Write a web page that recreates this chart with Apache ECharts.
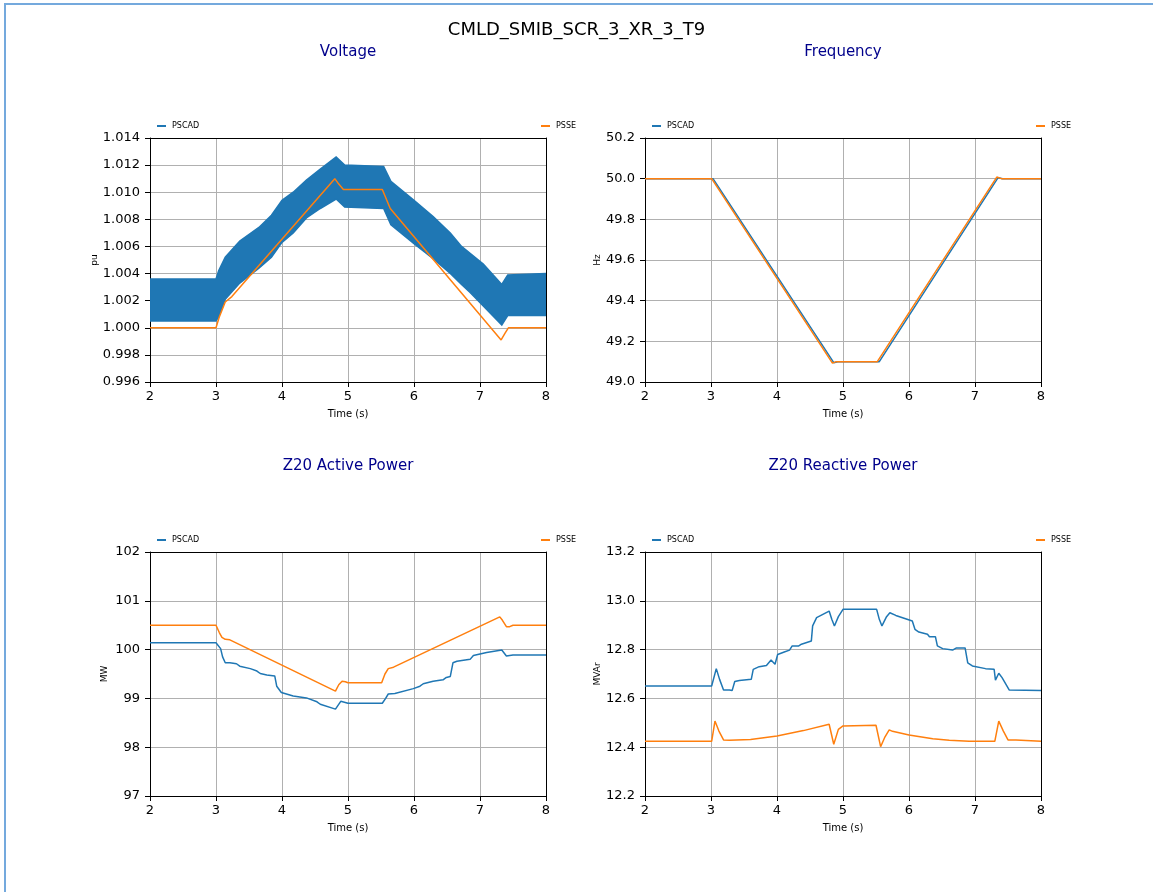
<!DOCTYPE html>
<html>
<head>
<meta charset="utf-8">
<script src="https://cdn.jsdelivr.net/npm/echarts@6/dist/echarts.min.js"></script>
<style>
  html, body { margin: 0; padding: 0; background: #fff; overflow: hidden; }
  #chart { width: 1153px; height: 892px; position: absolute; left: 0; top: 0; }
  #frame { position: absolute; left: 4px; top: 3px; width: 1300px; height: 1000px;
           border: 2px solid #74a9dd; pointer-events: none; box-sizing: border-box; }
</style>
</head>
<body>
<div id="chart"></div>
<div id="frame"></div>
<script>
// ---------------- DATA ----------------
const mainTitle = 'CMLD_SMIB_SCR_3_XR_3_T9';
const panelTitles = ['Voltage', 'Frequency', 'Z20 Active Power', 'Z20 Reactive Power'];
const yNames = ['pu', 'Hz', 'MW', 'MVAr'];
const seriesNames = ['PSCAD', 'PSSE'];

// Voltage (pu) - PSCAD oscillation envelope
const vBandT     = [2.0, 3.0, 3.04, 3.14, 3.36, 3.65, 3.84, 4.0, 4.17, 4.37, 4.58, 4.82, 4.95, 5.54, 5.65, 6.0, 6.29, 6.55, 6.72, 6.85, 7.05, 7.33, 7.42, 8.0];
const vPscadUpper = [1.0036, 1.0036, 1.0042, 1.0052, 1.0064, 1.0074, 1.0083, 1.0094, 1.0100, 1.0109, 1.0117, 1.0126, 1.0120, 1.0119, 1.0108, 1.0094, 1.0082, 1.0070, 1.0060, 1.0055, 1.0047, 1.0032, 1.0039, 1.0040];
const vPscadLower = [1.0005, 1.0005, 1.0008, 1.0021, 1.0033, 1.0044, 1.0052, 1.0063, 1.0070, 1.0081, 1.0088, 1.0095, 1.0089, 1.0088, 1.0076, 1.0062, 1.0051, 1.0040, 1.0032, 1.0026, 1.0016, 1.0002, 1.0009, 1.0009];
// Voltage - PSSE
const vPsseT = [2, 3.0, 3.05, 3.14, 3.24, 4.80, 4.86, 4.93, 5.52, 5.64, 7.32, 7.38, 7.43, 8];
const vPsse  = [1.0, 1.0, 1.0008, 1.0019, 1.0023, 1.0110, 1.0106, 1.0102, 1.0102, 1.0088, 0.9991, 0.9996, 1.0, 1.0];

// Frequency (Hz)
const fPscadT = [2, 3.03, 4.86, 4.92, 5.55, 7.35, 7.42, 8];
const fPscad  = [50, 50, 49.095, 49.1, 49.1, 50.005, 50.0, 50];
const fPsseT  = [2, 3.01, 4.84, 4.9, 5.52, 7.33, 7.4, 8];
const fPsse   = [50, 50, 49.093, 49.1, 49.1, 50.008, 50.0, 50];

// Z20 Active Power (MW)
const pPscadT = [2, 3.0, 3.07, 3.1, 3.14, 3.21, 3.31, 3.36, 3.52, 3.62, 3.67, 3.77, 3.89, 3.92, 3.99, 4.17, 4.37, 4.53, 4.58, 4.81, 4.89, 5.0, 5.52, 5.57, 5.61, 5.71, 5.99, 6.09, 6.14, 6.29, 6.44, 6.49, 6.55, 6.59, 6.65, 6.85, 6.9, 7.1, 7.33, 7.4, 7.5, 8];
const pPscad  = [100.14, 100.14, 100.02, 99.85, 99.73, 99.73, 99.71, 99.66, 99.61, 99.56, 99.51, 99.48, 99.46, 99.25, 99.12, 99.05, 99.01, 98.93, 98.88, 98.78, 98.94, 98.9, 98.9, 99.0, 99.09, 99.1, 99.2, 99.25, 99.3, 99.35, 99.38, 99.43, 99.45, 99.73, 99.76, 99.8, 99.88, 99.94, 99.99, 99.87, 99.89, 99.89];
const pPsseT  = [2, 3.0, 3.05, 3.09, 3.14, 3.21, 4.81, 4.86, 4.91, 4.96, 5.0, 5.51, 5.56, 5.61, 5.69, 7.30, 7.34, 7.40, 7.45, 7.5, 8];
const pPsse   = [100.5, 100.5, 100.35, 100.25, 100.21, 100.2, 99.15, 99.28, 99.35, 99.34, 99.32, 99.32, 99.5, 99.61, 99.64, 100.67, 100.6, 100.47, 100.47, 100.5, 100.5];

// Z20 Reactive Power (MVAr)
const qPscadT = [2, 3.01, 3.08, 3.13, 3.19, 3.28, 3.32, 3.36, 3.43, 3.61, 3.64, 3.73, 3.84, 3.91, 3.97, 4.01, 4.11, 4.19, 4.23, 4.33, 4.37, 4.52, 4.54, 4.6, 4.79, 4.83, 4.87, 4.93, 5.0, 5.51, 5.55, 5.59, 5.66, 5.71, 5.8, 6.05, 6.09, 6.15, 6.28, 6.31, 6.4, 6.43, 6.51, 6.66, 6.72, 6.85, 6.89, 6.96, 7.16, 7.29, 7.31, 7.36, 7.41, 7.52, 8];
const qPscad  = [12.651, 12.651, 12.722, 12.678, 12.634, 12.634, 12.632, 12.669, 12.673, 12.678, 12.719, 12.73, 12.735, 12.757, 12.74, 12.78, 12.79, 12.798, 12.815, 12.815, 12.822, 12.835, 12.897, 12.931, 12.958, 12.924, 12.897, 12.935, 12.965, 12.965, 12.924, 12.897, 12.935, 12.951, 12.94, 12.917, 12.883, 12.872, 12.863, 12.853, 12.853, 12.815, 12.804, 12.798, 12.807, 12.807, 12.746, 12.733, 12.722, 12.719, 12.675, 12.703, 12.685, 12.634, 12.632];
const qPsseT  = [2, 3.01, 3.06, 3.12, 3.19, 3.28, 3.6, 4.0, 4.4, 4.79, 4.86, 4.93, 5.0, 5.5, 5.57, 5.63, 5.7, 5.75, 6.0, 6.36, 6.61, 6.91, 7.3, 7.36, 7.43, 7.5, 7.62, 8];
const qPsse   = [12.424, 12.424, 12.507, 12.466, 12.43, 12.428, 12.432, 12.446, 12.468, 12.494, 12.412, 12.473, 12.487, 12.49, 12.402, 12.439, 12.471, 12.465, 12.45, 12.435, 12.428, 12.424, 12.424, 12.507, 12.466, 12.43, 12.43, 12.424];

// Axis ranges / ticks
const xTicks = [2, 3, 4, 5, 6, 7, 8];
const yRanges = [
  { min: 0.996, max: 1.014, interval: 0.002, dec: 3 },
  { min: 49.0, max: 50.2, interval: 0.2, dec: 1 },
  { min: 97, max: 102, interval: 1, dec: 0 },
  { min: 12.2, max: 13.2, interval: 0.2, dec: 1 }
];

// ---------------- LAYOUT ----------------
const BLUE = '#1f77b4', ORANGE = '#ff7f0e';
const FONT = 'DejaVu Sans';
const grids = [
  { left: 150, top: 138, width: 396, height: 244 },
  { left: 645, top: 138, width: 396, height: 244 },
  { left: 150, top: 552, width: 396, height: 244 },
  { left: 645, top: 552, width: 396, height: 244 }
];
const yNameGaps = [51, 43, 41, 43];

const zip = (t, v) => t.map((x, i) => [x, v[i]]);

// band polygon data: one row per time sample [t, lower, upper]
const bandRows = vBandT.map((t, i) => [t, vPscadLower[i], vPscadUpper[i]]);

const frameAxis = {
  axisLine: { show: true, onZero: false, lineStyle: { color: '#000', width: 1 } },
  axisTick: { show: false }, axisLabel: { show: false }, splitLine: { show: false }
};

const option = {
  animation: false,
  textStyle: { fontFamily: FONT },
  grid: grids.map(g => Object.assign({ show: false, containLabel: false }, g)),
  xAxis: grids.map((g, i) => ({
    gridIndex: i, type: 'value', min: xTicks[0], max: xTicks[xTicks.length - 1], interval: 1,
    position: 'bottom',
    name: 'Time (s)', nameLocation: 'middle', nameGap: 27,
    nameTextStyle: { fontSize: 10, color: '#000', fontFamily: FONT },
    axisLine: { show: true, onZero: false, lineStyle: { color: '#000', width: 1 } },
    axisTick: { show: true, inside: false, length: 5, lineStyle: { color: '#000' } },
    axisLabel: { fontSize: 13, color: '#000', margin: 8, fontFamily: FONT },
    splitLine: { show: true, showMinLine: false, showMaxLine: false, lineStyle: { color: '#b0b0b0', width: 1 } }
  })).concat(grids.map((g, i) => Object.assign({
    gridIndex: i, type: 'value', min: xTicks[0], max: xTicks[xTicks.length - 1], position: 'top'
  }, frameAxis))),
  yAxis: grids.map((g, i) => ({
    gridIndex: i, type: 'value', min: yRanges[i].min, max: yRanges[i].max, interval: yRanges[i].interval,
    position: 'left',
    name: yNames[i], nameLocation: 'middle', nameGap: yNameGaps[i], nameRotate: 90,
    nameTextStyle: { fontSize: 9, color: '#000', fontFamily: FONT },
    axisLine: { show: true, onZero: false, lineStyle: { color: '#000', width: 1 } },
    axisTick: { show: true, inside: false, length: 5, lineStyle: { color: '#000' } },
    axisLabel: { fontSize: 13, color: '#000', margin: 10, fontFamily: FONT,
                 formatter: v => Number(v).toFixed(yRanges[i].dec) },
    splitLine: { show: true, showMinLine: false, showMaxLine: false, lineStyle: { color: '#b0b0b0', width: 1 } }
  })).concat(grids.map((g, i) => Object.assign({
    gridIndex: i, type: 'value', min: yRanges[i].min, max: yRanges[i].max, position: 'right'
  }, frameAxis))),
  legend: [
    [157, 122, 'PSCAD'], [541, 122, 'PSSE'],
    [652, 122, 'PSCAD'], [1036, 122, 'PSSE'],
    [157, 536, 'PSCAD'], [541, 536, 'PSSE'],
    [652, 536, 'PSCAD'], [1036, 536, 'PSSE']
  ].map(([l, t, n]) => ({
    left: l, top: t, data: [n], icon: 'rect', itemWidth: 9, itemHeight: 2, itemGap: 4,
    selectedMode: false, padding: 0,
    textStyle: { fontSize: 8, color: '#000', fontFamily: FONT, padding: [0, 0, 0, 1] }
  })),
  graphic: [
    { type: 'text', left: 'center', top: 21, style: { text: mainTitle, font: '18px "DejaVu Sans"', fill: '#000' } },
    { type: 'text', x: 348, y: 52, style: { text: panelTitles[0], font: '15px "DejaVu Sans"', fill: '#00008b', align: 'center', verticalAlign: 'middle' } },
    { type: 'text', x: 843, y: 52, style: { text: panelTitles[1], font: '15px "DejaVu Sans"', fill: '#00008b', align: 'center', verticalAlign: 'middle' } },
    { type: 'text', x: 348, y: 466, style: { text: panelTitles[2], font: '15px "DejaVu Sans"', fill: '#00008b', align: 'center', verticalAlign: 'middle' } },
    { type: 'text', x: 843, y: 466, style: { text: panelTitles[3], font: '15px "DejaVu Sans"', fill: '#00008b', align: 'center', verticalAlign: 'middle' } }
  ],
  series: [
    // Voltage PSCAD band as a polygon between envelopes
    { name: seriesNames[0], type: 'custom', xAxisIndex: 0, yAxisIndex: 0,
      data: [0], itemStyle: { color: BLUE }, clip: true,
      renderItem: (params, api) => {
        const up = bandRows.map(r => api.coord([r[0], r[2]]));
        const lo = bandRows.slice().reverse().map(r => api.coord([r[0], r[1]]));
        return { type: 'polygon', shape: { points: up.concat(lo) },
                 style: { fill: BLUE, stroke: BLUE, lineWidth: 1.5 } };
      } },
    { name: seriesNames[1], type: 'line', xAxisIndex: 0, yAxisIndex: 0, symbol: 'none',
      data: zip(vPsseT, vPsse), lineStyle: { color: ORANGE, width: 1.5 }, itemStyle: { color: ORANGE } },
    // Frequency
    { name: seriesNames[0], type: 'line', xAxisIndex: 1, yAxisIndex: 1, symbol: 'none',
      data: zip(fPscadT, fPscad), lineStyle: { color: BLUE, width: 1.5 }, itemStyle: { color: BLUE } },
    { name: seriesNames[1], type: 'line', xAxisIndex: 1, yAxisIndex: 1, symbol: 'none',
      data: zip(fPsseT, fPsse), lineStyle: { color: ORANGE, width: 1.5 }, itemStyle: { color: ORANGE } },
    // Active power
    { name: seriesNames[0], type: 'line', xAxisIndex: 2, yAxisIndex: 2, symbol: 'none',
      data: zip(pPscadT, pPscad), lineStyle: { color: BLUE, width: 1.5 }, itemStyle: { color: BLUE } },
    { name: seriesNames[1], type: 'line', xAxisIndex: 2, yAxisIndex: 2, symbol: 'none',
      data: zip(pPsseT, pPsse), lineStyle: { color: ORANGE, width: 1.5 }, itemStyle: { color: ORANGE } },
    // Reactive power
    { name: seriesNames[0], type: 'line', xAxisIndex: 3, yAxisIndex: 3, symbol: 'none',
      data: zip(qPscadT, qPscad), lineStyle: { color: BLUE, width: 1.5 }, itemStyle: { color: BLUE } },
    { name: seriesNames[1], type: 'line', xAxisIndex: 3, yAxisIndex: 3, symbol: 'none',
      data: zip(qPsseT, qPsse), lineStyle: { color: ORANGE, width: 1.5 }, itemStyle: { color: ORANGE } }
  ]
};

const chart = echarts.init(document.getElementById('chart'), null, { renderer: 'canvas' });
chart.setOption(option);
</script>
</body>
</html>
